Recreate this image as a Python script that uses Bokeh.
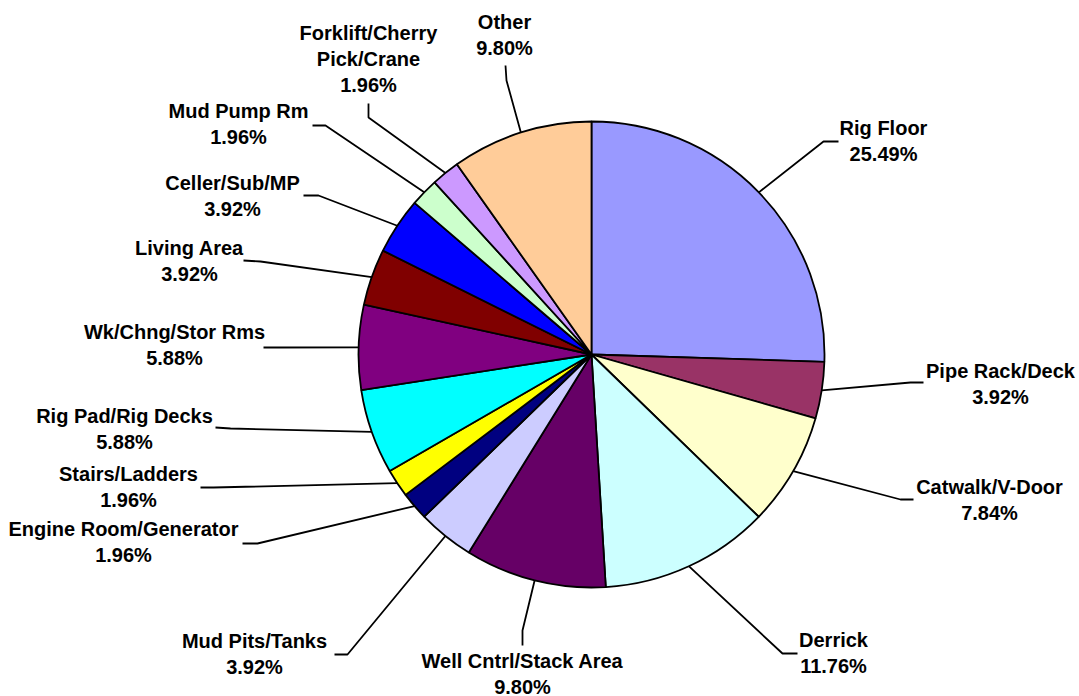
import math
from bokeh.plotting import figure
from bokeh.models import Range1d, ColumnDataSource
from bokeh.core.properties import value
from bokeh.embed import file_html
from bokeh.resources import INLINE

# ---- data ----
categories = ["Rig Floor", "Pipe Rack/Deck", "Catwalk/V-Door", "Derrick",
              "Well Cntrl/Stack Area", "Mud Pits/Tanks", "Engine Room/Generator",
              "Stairs/Ladders", "Rig Pad/Rig Decks", "Wk/Chng/Stor Rms",
              "Living Area", "Celler/Sub/MP", "Mud Pump Rm",
              "Forklift/Cherry\nPick/Crane", "Other"]
percentages = [25.49, 3.92, 7.84, 11.76, 9.80, 3.92, 1.96, 1.96, 5.88, 5.88,
               3.92, 3.92, 1.96, 1.96, 9.80]
colors = ["#9999FF", "#993366", "#FFFFCC", "#CCFFFF", "#660066", "#CCCCFF",
          "#000080", "#FFFF00", "#00FFFF", "#800080", "#800000", "#0000FF",
          "#CCFFCC", "#CC99FF", "#FFCC99"]

# ---- layout (screen pixel positions) ----
W, H = 1079, 696
CX, CY, R = 591, 354, 233
label_x = [883, 1000, 989, 833, 522, 254, 123, 128, 124, 174, 189, 232, 238, 368, 504]
label_y = [127, 370, 486, 639, 660, 640, 528, 473, 415, 331, 247, 182, 110, 32, 21]
elbow = [(823, 141), (910, 382), (900, 499), (782, 653), (522, 630), (347, 654),
         (257, 543), (213, 487), (230, 428), (278, 347), (260, 261), (318, 195),
         (325, 125), (368, 117), (506, 80)]
end = [(838, 141), (923, 382), (913, 499), (797, 653), (522, 645), (334, 654),
       (242, 543), (200, 487), (215, 427), (263, 347), (243, 260), (303, 195),
       (312, 125), (368, 103), (505, 65)]
LINE_H = 26


def Y(sy):
    return H - sy


p = figure(width=W, height=H, x_range=Range1d(0, W), y_range=Range1d(0, H),
           x_axis_type=None, y_axis_type=None, toolbar_location=None,
           output_backend="svg", min_border=0)
p.grid.visible = False
p.outline_line_color = None
p.background_fill_color = "white"

total = sum(percentages)
starts, ends, mids = [], [], []
cum = 0.0
for v in percentages:
    a0 = cum / total * 2 * math.pi
    cum += v
    a1 = cum / total * 2 * math.pi
    starts.append(math.pi / 2 - a1)
    ends.append(math.pi / 2 - a0)
    mids.append((a0 + a1) / 2)

src = ColumnDataSource(dict(x=[CX] * len(percentages), y=[Y(CY)] * len(percentages),
                            s=starts, e=ends, c=colors))
p.wedge(x="x", y="y", radius=R, start_angle="s", end_angle="e", fill_color="c",
        line_color="black", line_width=1.8, source=src)

# leader lines
xs, ys = [], []
for m, eb, en in zip(mids, elbow, end):
    sx = CX + R * math.sin(m)
    sy = CY - R * math.cos(m)
    xs.append([sx, eb[0], en[0]])
    ys.append([Y(sy), Y(eb[1]), Y(en[1])])
p.multi_line(xs=xs, ys=ys, line_color="black", line_width=1.8)

# labels
tx, ty, tt = [], [], []
for cat, v, lx, ly in zip(categories, percentages, label_x, label_y):
    lines = cat.split("\n") + [f"{v:.2f}%"]
    for i, t in enumerate(lines):
        tx.append(lx)
        ty.append(Y(ly + i * LINE_H))
        tt.append(t)
p.text(x=tx, y=ty, text=tt, text_align="center", text_baseline="middle",
       text_font=value("Liberation Sans"), text_font_style="bold",
       text_font_size="20px", text_color="black")

open("out.html", "w").write(file_html(p, INLINE))
